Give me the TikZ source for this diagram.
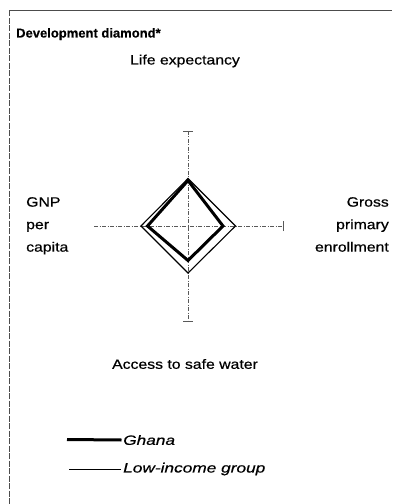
\documentclass[tikz,border=0pt]{standalone}
\usepackage{fontspec}
\setmainfont[FakeStretch=1.17, FakeBold=0.5,
  ItalicFeatures={FakeStretch=1.28}]{Liberation Sans}
\newfontfamily\titlefont[FakeBold=0.3]{Liberation Sans}
\usetikzlibrary{positioning}
\tikzset{
  axisline/.style={gray!70!black, line width=0.6bp, dash pattern=on 4bp off 1.5bp on 1bp off 1.5bp},
  tickbar/.style={gray!70!black, line width=0.8bp},
  ghanaline/.style={black, line width=3bp, line join=miter},
  lowline/.style={black, line width=1.1bp, line join=miter},
  lbl/.style={inner sep=0pt, font=\fontsize{13.5bp}{22.5bp}\selectfont},
}
\begin{document}
\begin{tikzpicture}[x=1bp,y=-1bp]
\useasboundingbox (0,0) rectangle (392,504);
% frame (top and left only)
\draw[gray!60!black, line width=0.7bp] (9.5,10.5)--(392,10.5);
\draw[gray!60!black, line width=0.7bp, dash pattern=on 6bp off 1.5bp] (9.5,10.5)--(9.5,504);
% labels
\node (title) [anchor=base west, inner sep=0pt, font=\titlefont\bfseries\fontsize{13bp}{15bp}\selectfont] at (16,37.5) {Development diamond*};
\node (life) [lbl] at (185,61) {Life expectancy};
\node (gnp) [lbl, align=left, anchor=north west] at (26,197) {GNP\\per\\capita};
\node (gross) [lbl, align=right, anchor=north east] at (389,197) {Gross\\primary\\enrollment};
\node (water) [lbl] at (185,364) {Access to safe water};
% axes
\coordinate (c) at (188,226);
\coordinate (at) at (188,131);
\coordinate (ab) at (188,321);
\coordinate (al) at (94,226);
\coordinate (ar) at (283,226);
\draw[axisline] (al)--(ar);
\draw[axisline] (at)--(ab);
\draw[tickbar] ([xshift=-5bp]at)--([xshift=5bp]at);
\draw[tickbar] ([xshift=-5bp]ab)--([xshift=5bp]ab);
\draw[tickbar] ([yshift=-5bp]ar)--([yshift=5bp]ar);
% low-income group
\coordinate (l1) at (188,178.5);
\coordinate (l2) at (235.5,226);
\coordinate (l3) at (188,273);
\coordinate (l4) at (141,226);
\draw[lowline] (l1)--(l2)--(l3)--(l4)--cycle;
% Ghana
\coordinate (g1) at (188,180.5);
\coordinate (g2) at (223,226);
\coordinate (g3) at (188,260.5);
\coordinate (g4) at (147.5,226);
\draw[ghanaline] (g1)--(g2)--(g3)--(g4)--cycle;
% legend
\node (ghana) [lbl, anchor=west, font=\itshape\fontsize{13.5bp}{16bp}\selectfont] at (123,440) {Ghana};
\node (low) [lbl, anchor=west, font=\itshape\fontsize{13.5bp}{16bp}\selectfont] at (123,469) {Low-income group};
\coordinate (kg) at (67,439.5);
\coordinate (kl) at (69,469);
\draw[ghanaline] (kg)--([xshift=-1.5bp]ghana.west);
\draw[black, line width=0.8bp] (kl)--([xshift=-2bp]low.west);
\end{tikzpicture}
\end{document}
